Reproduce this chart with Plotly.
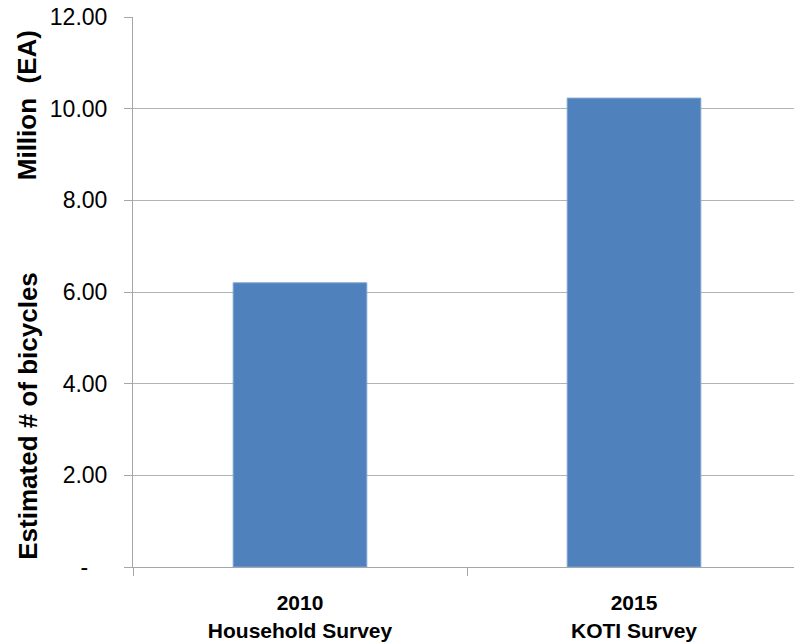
import plotly.graph_objects as go

categories = ["<b>2010</b><br><b>Household Survey</b>", "<b>2015</b><br><b>KOTI Survey</b>"]
values = [6.20, 10.23]
y_tickvals = [0, 2, 4, 6, 8, 10, 12]
y_ticktext = ["-\u00a0\u00a0\u00a0", "2.00", "4.00", "6.00", "8.00", "10.00", "12.00"]

fig = go.Figure()
fig.add_trace(go.Bar(
    x=categories, y=values, width=0.4,
    marker=dict(color="#4F81BD", line=dict(color="#7FA2D0", width=1)),
))

font = "Liberation Sans, Arial, sans-serif"
fig.update_layout(
    width=794, height=644,
    margin=dict(l=133, r=0, t=17, b=77),
    paper_bgcolor="white", plot_bgcolor="white",
    showlegend=False,
    font=dict(family=font, color="black"),
)
fig.update_xaxes(
    range=[-0.5, 1.479],
    showline=True, linecolor="#A6A6A6", linewidth=1,
    ticks="outside", ticklen=8, tickcolor="#A6A6A6", tickson="boundaries",
    tickfont=dict(size=21, family=font, color="black"),
    ticklabelstandoff=17,
    showgrid=False,
)
fig.update_yaxes(
    range=[0, 12],
    tickvals=y_tickvals, ticktext=y_ticktext,
    showline=True, linecolor="#A6A6A6", linewidth=1,
    ticks="outside", ticklen=8, tickcolor="#A6A6A6",
    showgrid=True, gridcolor="#B3B3B3", gridwidth=1,
    tickfont=dict(size=23, family=font, color="black"),
    ticklabelstandoff=12,
    zeroline=False,
)
fig.add_annotation(
    text="<b>Estimated # of bicycles</b>", textangle=-90,
    xref="paper", yref="paper", x=-0.16, y=0.01, xanchor="center", yanchor="bottom",
    showarrow=False, font=dict(size=26, family=font, color="black"),
)
fig.add_annotation(
    text="<b>Million\u00a0\u00a0(EA)</b>", textangle=-90,
    xref="paper", yref="paper", x=-0.16, y=0.98, xanchor="center", yanchor="top",
    showarrow=False, font=dict(size=26, family=font, color="black"),
)

fig.write_html("out.html")
